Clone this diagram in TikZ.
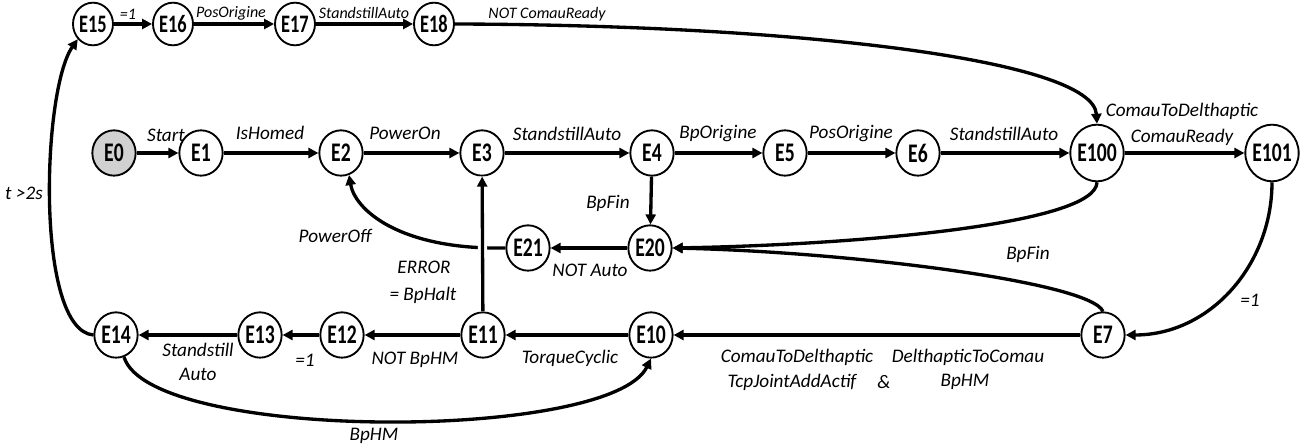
\documentclass[tikz,border=0pt]{standalone}
\usepackage{fontspec}
\setmainfont{Carlito}
\usetikzlibrary{arrows.meta,shapes.geometric}
\newcommand{\nt}[1]{\makebox[0pt][c]{\scalebox{0.95}[1.3]{#1}}}
\begin{document}
\begin{tikzpicture}[x=0.75pt,y=-0.75pt,
  st/.style={ellipse,draw,line width=1.4pt,fill=white,inner sep=0pt,
    minimum width=32.5pt,minimum height=34pt,font=\bfseries\fontsize{15.5}{18}\selectfont},
  sm/.style={st,minimum width=30pt,minimum height=32pt,font=\bfseries\fontsize{14.5}{17}\selectfont},
  big/.style={st,minimum width=40pt,minimum height=42.5pt},
  init/.style={st,fill=black!18},
  lab/.style={font=\itshape\fontsize{14.4}{17}\selectfont,inner sep=0pt},
  slab/.style={font=\itshape\fontsize{12}{14}\selectfont,inner sep=0pt},
  tr/.style={line width=2.5pt,-{Triangle[length=7.5pt,width=7.5pt]}},
  bridge/.style={preaction={draw=white,line width=7pt,-}}
]
\useasboundingbox (0,0) rectangle (1311,445);
% nodes
\node[sm] (E15) at (93,24) {\nt{E15}};
\node[sm] (E16) at (173,24) {\nt{E16}};
\node[sm] (E17) at (295,24) {\nt{E17}};
\node[sm] (E18) at (434,24) {\nt{E18}};
\node[init] (E0) at (114,153) {\nt{E0}};
\node[st] (E1) at (201,153) {\nt{E1}};
\node[st] (E2) at (341,153) {\nt{E2}};
\node[st] (E3) at (482,153) {\nt{E3}};
\node[st] (E4) at (652,153) {\nt{E4}};
\node[st] (E5) at (785,153) {\nt{E5}};
\node[st] (E6) at (918,153) {\nt{E6}};
\node[big] (E100) at (1097,153) {\nt{E100}};
\node[big] (E101) at (1272,153) {\nt{E101}};
\node[st] (E21) at (528,248) {\nt{E21}};
\node[st] (E20) at (650,248) {\nt{E20}};
\node[st] (E14) at (116,335) {\nt{E14}};
\node[st] (E13) at (260,335) {\nt{E13}};
\node[st] (E12) at (342,335) {\nt{E12}};
\node[st] (E11) at (483,335) {\nt{E11}};
\node[st] (E10) at (651,335) {\nt{E10}};
\node[st] (E7) at (1103,335) {\nt{E7}};
% straight transitions
\draw[tr] (E15) -- (E16);
\draw[tr] (E16) -- (E17);
\draw[tr] (E17) -- (E18);
\draw[tr] (E0) -- (E1);
\draw[tr] (E1) -- (E2);
\draw[tr] (E2) -- (E3);
\draw[tr] (E3) -- (E4);
\draw[tr] (E4) -- (E5);
\draw[tr] (E5) -- (E6);
\draw[tr] (E6) -- (E100);
\draw[tr] (E100) -- (E101);
\draw[tr] (E4) -- (E20);
\draw[tr] (E20) -- (E21);
\draw[tr] (E7) -- (E10);
\draw[tr] (E10) -- (E11);
\draw[tr] (E11) -- (E12);
\draw[tr] (E12) -- (E13);
\draw[tr] (E13) -- (E14);
% curved transitions
\draw[tr] (E18.east) .. controls (800,25) and (1093,60) .. (E100.north);
\draw[tr] (E100.south) .. controls (1096,225) and (850,245) .. (E20.east);
\draw[tr] (E7.north) .. controls (1090,282) and (850,252) .. (E20.east);
\draw[tr] (E101.south) .. controls (1272,265) and (1210,335) .. (E7.east);
\draw[tr] (E21.west) .. controls (400,250) and (355,210) .. (E2.290);
\draw[tr] (E14.290) .. controls (150,442) and (610,442) .. (E10.south);
\draw[tr] (E14.west) .. controls (35,330) and (42,90) .. (E15.225);
\draw[tr,bridge] (E11) -- (E3);
% labels
\node[slab] (l1) at (128,14) {=1};
\node[slab] (l2) at (231,13) {PosOrigine};
\node[slab] (l3) at (364,13) {StandstillAuto};
\node[slab] (l4) at (547,14) {NOT ComauReady};
\node[lab] (l5) at (166,135) {Start};
\node[lab] (l6) at (270,133) {IsHomed};
\node[lab] (l7) at (405,133) {PowerOn};
\node[lab] (l8) at (567,134) {StandstillAuto};
\node[lab] (l9) at (718,134) {BpOrigine};
\node[lab] (l10) at (851,134) {PosOrigine};
\node[lab] (l11) at (1004,134) {StandstillAuto};
\node[lab] (l12) at (1182,111) {ComauToDelthaptic};
\node[lab] (l13) at (1182,137) {ComauReady};
\node[lab] (l14) at (24,193) {t >2s};
\node[lab] (l15) at (608,203) {BpFin};
\node[lab] (l16) at (335,236) {PowerOff};
\node[lab] (l17) at (590,270) {NOT Auto};
\node[lab] (l18) at (1028,254) {BpFin};
\node[lab] (l19) at (424,267) {ERROR};
\node[lab] (l20) at (423,295) {= BpHalt};
\node[lab] (l21) at (1250,300) {=1};
\node[lab] (l22) at (198,350) {Standstill};
\node[lab] (l23) at (198,374) {Auto};
\node[lab] (l24) at (305,360) {=1};
\node[lab] (l25) at (415,360) {NOT BpHM};
\node[lab] (l26) at (570,358) {TorqueCyclic};
\node[lab] (l27) at (797,357) {ComauToDelthaptic};
\node[lab] (l28) at (792,382) {TcpJointAddActif};
\node[lab] (l29) at (884,382) {\&};
\node[lab] (l30) at (968,357) {DelthapticToComau};
\node[lab] (l31) at (965,382) {BpHM};
\node[lab] (l32) at (374,436) {BpHM};
\end{tikzpicture}
\end{document}
